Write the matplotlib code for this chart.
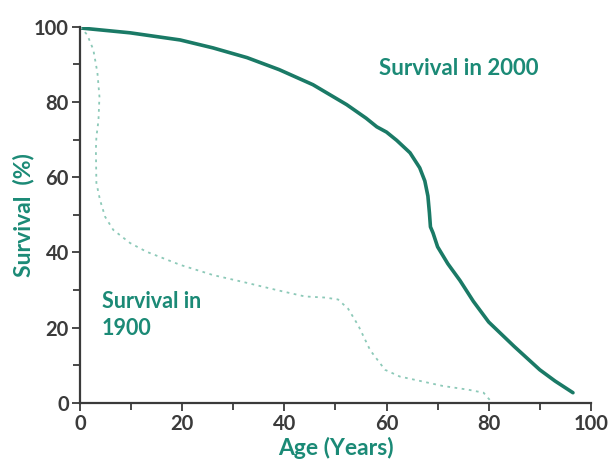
import matplotlib.pyplot as plt

# survival curve 2000 (age, % surviving)
age_2000 = [0, 9.8, 19.6, 26, 32.7, 39, 45.6, 52.2, 56, 58.1, 60, 62, 64.6, 66.5, 67.5, 68.1, 68.4, 68.6, 69.1, 70, 72, 74.4, 77, 80, 85, 90, 93, 96.5]
surv_2000 = [99.7, 98.4, 96.5, 94.4, 91.8, 88.6, 84.6, 79.3, 75.7, 73.4, 72, 69.8, 66.5, 62.5, 59, 55, 50.5, 46.8, 45.2, 41.5, 37, 32.5, 27, 21.5, 15, 8.8, 5.8, 2.7]

# survival curve 1900 (dotted)
age_1900 = [0, 1.4, 2.6, 3.4, 3.8, 3.6, 3.2, 3.1, 3.2, 3.9, 4.9, 6.5, 9.8, 13, 19.6, 26, 32.7, 38.5, 44, 48, 50.5, 52.5, 54.5, 56.8, 59.7, 62.6, 66, 71, 76, 79, 80.2]
surv_1900 = [100, 97.9, 93.9, 87.8, 81.4, 75, 70.7, 67.3, 58.5, 54, 49.5, 46, 42.5, 40.2, 36.7, 34, 31.9, 30, 28.3, 28, 27.5, 25, 20.5, 14, 8.8, 7, 6, 4.5, 3.5, 2.7, 0.8]

xticks = [0, 20, 40, 60, 80, 100]
yticks = [0, 20, 40, 60, 80, 100]

teal = '#1b8a76'
dark = '#3a3a3a'

plt.rcParams['font.family'] = ['Lato', 'DejaVu Sans']

fig = plt.figure(figsize=(6.11, 4.62), dpi=100)
ax = fig.add_axes([0.131, 0.128, 0.836, 0.814])

ax.plot(age_2000, surv_2000, color='#1a7a66', lw=2.6, solid_capstyle='round', solid_joinstyle='round')
ax.plot(age_1900, surv_1900, color='#8cc9b8', lw=1.3, ls=(0, (1.5, 2.5)))

ax.set_xlim(0, 100)
ax.set_ylim(0, 100)
ax.set_xticks(xticks)
ax.set_yticks(yticks)
ax.set_xticks([10, 30, 50, 70, 90], minor=True)
ax.set_yticks([10, 30, 50, 70, 90], minor=True)
ax.tick_params(which='both', direction='out', color=dark, width=1.3, labelsize=14.5, labelcolor=dark, pad=2)
ax.tick_params(which='major', length=6)
ax.tick_params(which='minor', length=5)
for lab in ax.get_xticklabels() + ax.get_yticklabels():
    lab.set_fontweight('bold')

ax.spines['top'].set_visible(False)
ax.spines['right'].set_visible(False)
for s in ['left', 'bottom']:
    ax.spines[s].set_color(dark)
    ax.spines[s].set_linewidth(1.6)

ax.set_xlabel('Age (Years)', color=teal, fontsize=16.5, fontweight='bold', labelpad=2)
ax.set_ylabel('Survival  (%)', color=teal, fontsize=16.5, fontweight='bold', labelpad=0)

ax.text(58.5, 89, 'Survival in 2000', color=teal, fontsize=16, fontweight='bold', va='center')
ax.text(4.3, 17, 'Survival in\n1900', color=teal, fontsize=15.5, fontweight='bold', va='bottom', linespacing=1.35)

fig.savefig('out.png', dpi=100)
